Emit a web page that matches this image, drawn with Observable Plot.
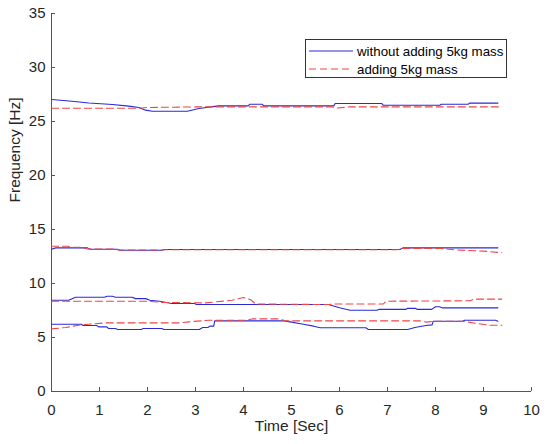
<!DOCTYPE html>
<html><head><meta charset="utf-8">
<script src="https://cdn.jsdelivr.net/npm/d3@7"></script>
<script src="https://cdn.jsdelivr.net/npm/@observablehq/plot@0.6"></script>
<style>
body{margin:0;background:#fff;}
#wrap{position:relative;width:550px;height:444px;}
#legend{position:absolute;left:305px;top:39px;width:202px;height:39px;border:1px solid #333;background:#fff;font:13.3px "Liberation Sans",Arial,sans-serif;color:#000;box-sizing:border-box;}
.row{position:absolute;left:3px;display:flex;align-items:center;height:16px;}
.row svg{margin-right:4px;}
</style>
</head><body>
<div id="wrap"></div>
<script>
const xTicks = [0,1,2,3,4,5,6,7,8,9,10];
const yTicks = [0,5,10,15,20,25,30,35];
const seriesNames = ["without adding 5kg mass","adding 5kg mass"];

// mode 1 (~6 Hz)
const blue1 = [[0,6.23],[0.62,6.23],[0.66,6.11],[0.94,6.11],[0.98,5.98],[1.15,5.98],[1.19,5.83],[1.33,5.83],[1.38,5.74],[1.87,5.74],[1.91,5.83],[2.3,5.83],[2.34,5.74],[3.08,5.74],[3.15,5.93],[3.26,5.93],[3.3,6.05],[3.38,6.05],[3.4,6.54],[4.85,6.54],[4.97,6.45],[5.25,6.23],[5.46,6.05],[5.6,5.9],[6.55,5.9],[6.6,5.74],[7.42,5.74],[7.57,5.93],[7.8,6.11],[7.93,6.17],[7.95,6.51],[8.57,6.51],[8.6,6.6],[9.25,6.6],[9.3,6.5]];
const red1 = [[0,5.8],[0.3,5.93],[0.57,6.14],[0.76,6.23],[1.12,6.35],[2.65,6.35],[2.86,6.45],[3.28,6.6],[4.04,6.6],[4.18,6.72],[4.73,6.72],[4.88,6.54],[7.68,6.54],[7.82,6.42],[7.95,6.5],[8.58,6.5],[8.86,6.3],[9.13,6.14],[9.38,6.14]];
// mode 2 (~8 Hz)
const blue2 = [[0,8.45],[0.36,8.45],[0.5,8.73],[1.1,8.73],[1.16,8.82],[1.27,8.82],[1.33,8.73],[1.68,8.73],[1.75,8.6],[1.96,8.6],[2.05,8.45],[2.25,8.35],[2.45,8.2],[2.5,8.15],[2.98,8.15],[3.02,8.05],[5.77,8.05],[6.0,7.75],[6.22,7.53],[6.78,7.53],[6.82,7.6],[7.38,7.6],[7.42,7.7],[7.58,7.7],[7.62,7.6],[7.92,7.6],[8.0,7.85],[8.08,7.85],[8.15,7.74],[9.3,7.74]];
const red2 = [[0,8.36],[2.0,8.36],[2.3,8.25],[3.2,8.2],[3.76,8.45],[4.0,8.7],[4.15,8.5],[4.25,8.1],[5.77,8.05],[5.9,8.1],[6.91,8.1],[6.97,8.36],[8.72,8.4],[8.8,8.55],[9.38,8.55]];
// mode 3 (~13 Hz)
const blue3 = [[0,13.17],[0.09,13.3],[0.75,13.3],[0.8,13.17],[1.37,13.17],[1.42,13.08],[2.3,13.08],[2.35,13.15],[7.26,13.15],[7.32,13.3],[9.3,13.3]];
const red3 = [[0,13.45],[0.35,13.45],[0.4,13.35],[0.6,13.35],[0.75,13.2],[1.3,13.2],[1.4,13.1],[2.3,13.1],[2.4,13.13],[7.2,13.13],[7.3,13.25],[8.1,13.25],[8.44,13.1],[9.0,13.0],[9.38,12.85]];
// mode 4 (~26 Hz)
const blue4 = [[0,27.04],[0.37,26.9],[0.78,26.72],[1.27,26.57],[1.61,26.42],[1.82,26.3],[1.96,26.05],[2.1,25.95],[2.83,25.95],[3.07,26.2],[3.48,26.45],[4.1,26.45],[4.13,26.6],[4.39,26.6],[4.42,26.45],[5.88,26.45],[5.91,26.67],[6.88,26.67],[6.91,26.5],[8.09,26.5],[8.12,26.6],[8.68,26.6],[8.71,26.7],[9.3,26.7]];
const red4 = [[0,26.22],[1.8,26.22],[2.0,26.3],[3.0,26.35],[5.85,26.35],[5.95,26.25],[6.2,26.35],[9.38,26.35]];

const blueColor = "#2a2ad8";
const redColor = "#f04545";

function toRows(arr, name, id){ return arr.map(([t,f]) => ({t, f, name, id})); }
const blueRows = [blue1,blue2,blue3,blue4].flatMap((a,i)=>toRows(a, seriesNames[0], "b"+i));
const redRows = [red1,red2,red3,red4].flatMap((a,i)=>toRows(a, seriesNames[1], "r"+i));

const font = "Liberation Sans, Arial, Helvetica, sans-serif";
const chart = Plot.plot({
  width: 550, height: 444,
  marginLeft: 51, marginRight: 19, marginTop: 13, marginBottom: 53,
  style: {fontFamily: font, fontSize: "15px", color: "#262626", background: "#fff", overflow: "visible"},
  x: {domain: [0,10]},
  y: {domain: [0,35]},
  marks: [
    Plot.ruleX([0], {stroke: "#555"}),
    Plot.ruleY([0], {stroke: "#555"}),
    Plot.axisX({ticks: xTicks, tickSize: -4, tickPadding: 17, tickFormat: d => String(d), label: null, stroke: "#555", fill: "#262626"}),
    Plot.axisY({ticks: yTicks, tickSize: -4, tickPadding: 10, tickFormat: d => String(d), label: null, stroke: "#555", fill: "#262626"}),
    Plot.line(blueRows, {x: "t", y: "f", z: "id", stroke: blueColor, strokeWidth: 1.1}),
    Plot.line(redRows, {x: "t", y: "f", z: "id", stroke: redColor, strokeWidth: 1.1, strokeDasharray: "7,4"}),
    Plot.text(["Time [Sec]"], {frameAnchor: "bottom", dy: 39, fontSize: 15.5, fill: "#262626", fontFamily: font}),
    Plot.text(["Frequency [Hz]"], {frameAnchor: "left", dx: -36, rotate: -90, fontSize: 15.5, fill: "#262626", fontFamily: font})
  ]
});
const wrap = document.getElementById("wrap");
wrap.appendChild(chart);

const legend = document.createElement("div");
legend.id = "legend";
const styles = [{c: blueColor, d: null}, {c: redColor, d: "7,4"}];
seriesNames.forEach((n, i) => {
  const row = document.createElement("div");
  row.className = "row";
  row.style.top = (3 + i*18) + "px";
  row.innerHTML = `<svg width="44" height="4"><line x1="0" y1="2" x2="44" y2="2" stroke="${styles[i].c}" stroke-width="1.1" ${styles[i].d ? `stroke-dasharray="${styles[i].d}"` : ""}/></svg><span>${n}</span>`;
  legend.appendChild(row);
});
wrap.appendChild(legend);
</script>
</body></html>
